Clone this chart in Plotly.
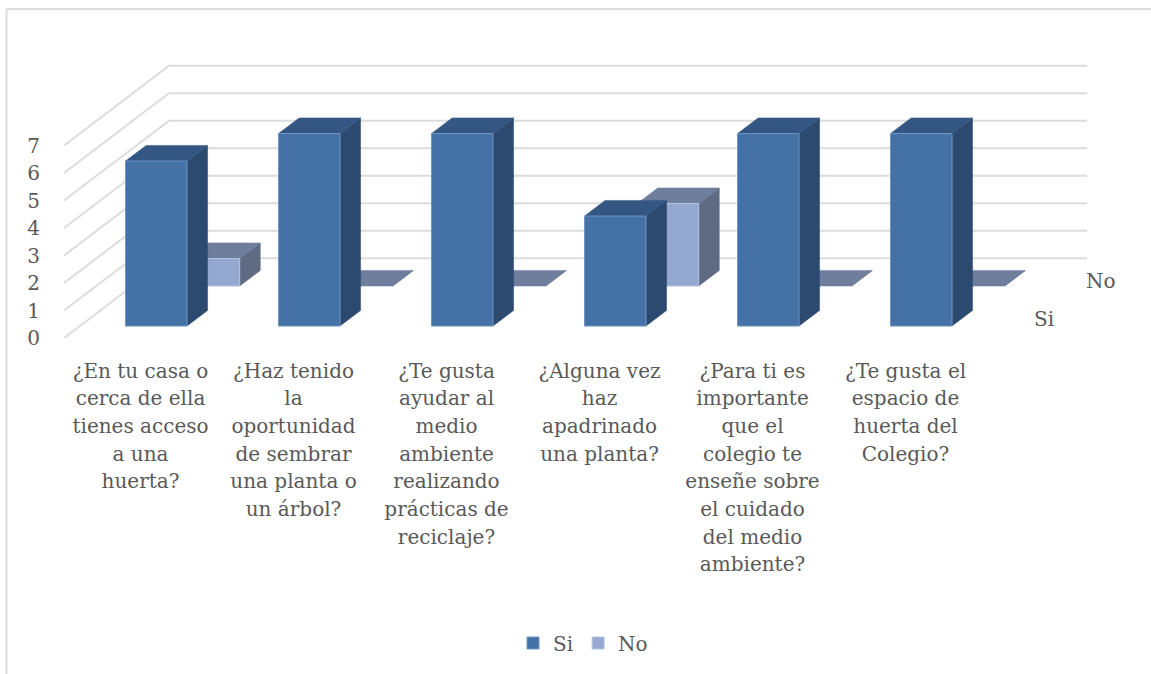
import plotly.graph_objects as go

# ---- data ----
categories = [
    ["¿En tu casa o", "cerca de ella", "tienes acceso", "a una", "huerta?"],
    ["¿Haz tenido", "la", "oportunidad", "de sembrar", "una planta o", "un árbol?"],
    ["¿Te gusta", "ayudar al", "medio", "ambiente", "realizando", "prácticas de", "reciclaje?"],
    ["¿Alguna vez", "haz", "apadrinado", "una planta?"],
    ["¿Para ti es", "importante", "que el", "colegio te", "enseñe sobre", "el cuidado", "del medio", "ambiente?"],
    ["¿Te gusta el", "espacio de", "huerta del", "Colegio?"],
]
si_values = [6, 7, 7, 4, 7, 7]
no_values = [1, 0, 0, 3, 0, 0]
value_ticks = [0, 1, 2, 3, 4, 5, 6, 7]

# ---- page geometry (pixels) ----
W, H = 1151, 674
PL, PR, PT, PB = 63, 1130, 40, 338      # plot rectangle
CAT0_PX, CAT_STEP = 140.5, 153.0        # front-plane category centre and spacing
UNIT_PX = 27.5                          # pixels per value unit
DEPTH_DX, DEPTH_DY = 105.0, 79.7        # full depth of the box, pixels
BAR_W = 61.5 / CAT_STEP
SI_Z = (0.15, 0.346)
NO_Z = (0.652, 0.848)

x_range = [(PL - CAT0_PX) / CAT_STEP, (PR - CAT0_PX) / CAT_STEP]
y_range = [0, (PB - PT) / UNIT_PX]
DX = DEPTH_DX / CAT_STEP    # depth shift in category units
DY = DEPTH_DY / UNIT_PX     # depth shift in value units
X_LO, X_HI = -0.5, 5.5

FONT = "DejaVu Serif"
GLYPH = 20       # glyph size of the text
LEAD = 21.3      # em that sets the line spacing of the category labels
TXT = "#595959"
GRID = "#dcdcdc"


def px(i, z):
    return i + z * DX


def py(v, z):
    return v + z * DY


def label(lines):
    return "<br>".join(f'<span style="font-size:{GLYPH}px">{t}</span>' for t in lines)


fig = go.Figure()


def faces(values, zr, side, top, zo):
    sx, sy, tx, ty = [], [], [], []
    z0, z1 = zr
    for i, v in enumerate(values):
        l, r = i - BAR_W / 2, i + BAR_W / 2
        sx += [px(r, z0), px(r, z1), px(r, z1), px(r, z0), px(r, z0), None]
        sy += [py(0, z0), py(0, z1), py(v, z1), py(v, z0), py(0, z0), None]
        tx += [px(l, z0), px(r, z0), px(r, z1), px(l, z1), px(l, z0), None]
        ty += [py(v, z0), py(v, z0), py(v, z1), py(v, z1), py(v, z0), None]
    for xs, ys, col in ((sx, sy, side), (tx, ty, top)):
        fig.add_trace(go.Scatter(x=xs, y=ys, mode="lines", fill="toself", fillcolor=col,
                                 line=dict(width=0.5, color=col), showlegend=False,
                                 hoverinfo="skip", zorder=zo))


# walls: left side and back gridlines
gx, gy = [], []
for v in value_ticks:
    gx += [px(X_LO, 0), px(X_LO, 1), px(X_HI, 1), None]
    gy += [py(v, 0), py(v, 1), py(v, 1), None]
fig.add_trace(go.Scatter(x=gx, y=gy, mode="lines", line=dict(color=GRID, width=2),
                         showlegend=False, hoverinfo="skip", zorder=0))

# front faces are real bars, legend order Si then No
xs_i = list(range(len(categories)))
fig.add_trace(go.Bar(x=[px(i, SI_Z[0]) for i in xs_i], y=si_values,
                     base=[py(0, SI_Z[0])] * len(xs_i), width=BAR_W, name="Si",
                     marker=dict(color="#4472a6",
                                 line=dict(color="#7096c4", width=[1 if v else 0 for v in si_values])),
                     zorder=4))
fig.add_trace(go.Bar(x=[px(i, NO_Z[0]) for i in xs_i], y=no_values,
                     base=[py(0, NO_Z[0])] * len(xs_i), width=BAR_W, name="No",
                     marker=dict(color="#94a8d0",
                                 line=dict(color="#b4c4e0", width=[1 if v else 0 for v in no_values])),
                     zorder=2))

faces(no_values, NO_Z, "#5e6b83", "#6f7e9d", 1)
faces(si_values, SI_Z, "#2c4a70", "#345683", 3)

tf = dict(family=FONT, size=GLYPH, color=TXT)
fig.update_layout(
    width=W, height=H, autosize=False,
    margin=dict(l=PL, r=W - PR, t=PT, b=H - PB),
    paper_bgcolor="white", plot_bgcolor="rgba(0,0,0,0)",
    barmode="overlay",
    font=tf,
    xaxis=dict(range=x_range, tickmode="array", tickvals=xs_i,
               ticktext=[label(c) for c in categories],
               showgrid=False, zeroline=False, showline=False, ticks="outside",
               ticklen=13, tickcolor="rgba(0,0,0,0)", automargin=False,
               tickangle=0, tickfont=dict(family=FONT, size=LEAD, color=TXT)),
    yaxis=dict(range=y_range, tickmode="array", tickvals=value_ticks,
               showgrid=False, zeroline=False, showline=False, ticks="outside",
               ticklen=18, tickcolor="rgba(0,0,0,0)", automargin=False,
               tickfont=tf),
    legend=dict(orientation="h", x=(513 - PL) / (PR - PL), xanchor="left",
                y=(PB - 643) / (PB - PT), yanchor="middle",
                font=tf, bgcolor="rgba(0,0,0,0)",
                itemclick=False, itemdoubleclick=False),
    annotations=[
        dict(x=px(X_HI, sum(SI_Z) / 2), y=py(0, sum(SI_Z) / 2), text="Si", showarrow=False,
             xshift=36, yshift=-1, font=tf),
        dict(x=px(X_HI, sum(NO_Z) / 2), y=py(0, sum(NO_Z) / 2), text="No", showarrow=False,
             xshift=40, yshift=-3, font=tf),
    ],
    shapes=[
        dict(type="line", xref="paper", yref="paper",
             x0=(6.5 - PL) / (PR - PL), x1=(W - PL) / (PR - PL),
             y0=(PB - 9) / (PB - PT), y1=(PB - 9) / (PB - PT),
             line=dict(color=GRID, width=2)),
        dict(type="line", xref="paper", yref="paper",
             x0=(6.5 - PL) / (PR - PL), x1=(6.5 - PL) / (PR - PL),
             y0=(PB - 9) / (PB - PT), y1=(PB - H) / (PB - PT),
             line=dict(color=GRID, width=2)),
    ],
)

fig.write_html("out.html", config=dict(displayModeBar=False),
               post_script="document.body.style.margin='0';document.body.style.overflow='hidden';")
